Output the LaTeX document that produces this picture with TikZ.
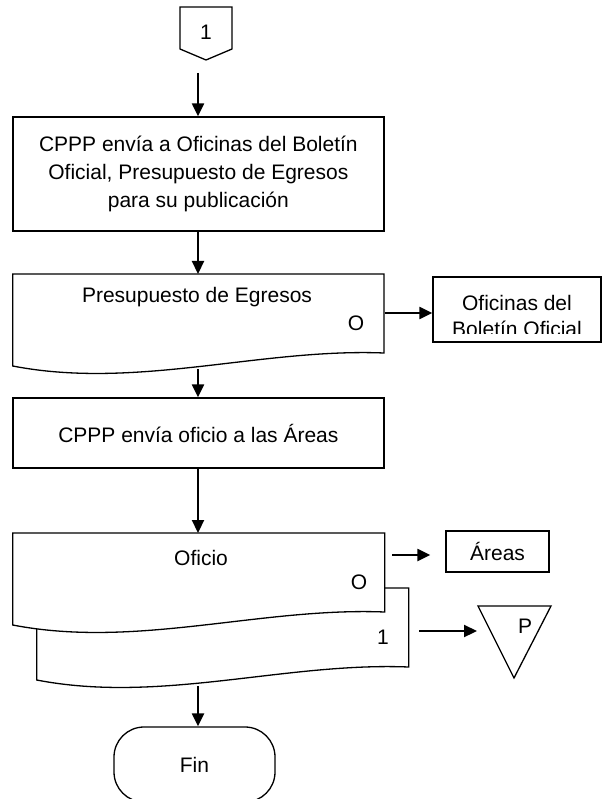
\documentclass[tikz,border=0pt]{standalone}
\usepackage{fontspec}
\setmainfont{Liberation Sans}
\usetikzlibrary{positioning,arrows.meta}

\begin{document}
\begin{tikzpicture}[x=1pt, y=-1pt, line width=1.3pt,
  font=\fontsize{21}{28}\selectfont,
  box/.style={draw, rectangle, align=center, inner sep=0pt},
  flow/.style={-{Triangle[length=13pt, width=12pt]}, line width=2.2pt}]

  \useasboundingbox (0,0) rectangle (602,799);

  % Conector de página
  \draw (180,7) -- (232,7) -- (232,49) -- (206,60) -- (180,49) -- cycle;
  \node (conn) at (206,32) {1};
  \coordinate (conn foot) at (198,73);

  % Proceso: envío al Boletín Oficial
  \node[box, minimum width=371pt, minimum height=114pt] (box1) at (198.35,174) {CPPP envía a Oficinas del Boletín\\ Oficial, Presupuesto de Egresos\\ para su publicación};

  % Documento: Presupuesto de Egresos
  \draw (12.7,274) -- (384,274) -- (384,353) .. controls (260.7,348) and (136.7,390) .. (12.7,366) -- cycle;
  \coordinate (doc1 top) at (198,274);
  \coordinate (doc1 foot) at (198,369);
  \coordinate (doc1 right) at (385,313);
  \node (doc1) at (197,297) {Presupuesto de Egresos};
  \node (doc1 o) at (356,323) {O};

  % Oficinas del Boletín Oficial (texto recortado)
  \node[box, minimum width=168pt, minimum height=65pt] (ofic) at (517,309.5) {};
  \begin{scope}
    \clip (433,277) rectangle (601,333);
    \node[align=center, font=\fontsize{21}{26}\selectfont] (ofic text) at (517,316) {Oficinas del\\ Boletín Oficial};
  \end{scope}

  % Proceso: oficio a las Áreas
  \node[box, minimum width=371pt, minimum height=70pt] (box3) at (198.35,433) {CPPP envía oficio a las Áreas};

  % Documento múltiple: Oficio
  \draw (36.7,588) -- (408.7,588) -- (408.7,667) .. controls (284.7,662) and (160.7,704) .. (36.7,680) -- cycle;
  \draw[fill=white] (12.7,533) -- (384.7,533) -- (384.7,612) .. controls (260.7,607) and (136.7,649) .. (12.7,625) -- cycle;
  \coordinate (doc2 top) at (198,533);
  \coordinate (doc2 right) at (392,555);
  \coordinate (doc2b right) at (419,631);
  \coordinate (doc2 foot) at (198,686);
  \node (doc2) at (201,558) {Oficio};
  \node (doc2 o) at (359,582) {O};
  \node (doc2 one) at (383,637) {1};

  % Áreas y archivo P
  \node[box, minimum width=103pt, minimum height=41pt] (areas) at (497.5,551.5) {Áreas};
  \draw (478,606) -- (551,606) -- (514,678) -- cycle;
  \coordinate (arch) at (477,631);
  \begin{scope}
    \clip (500,615) rectangle (545,632);
    \node (arch p) at (525,626.5) {P};
  \end{scope}

  % Terminal
  \node[draw, rectangle, rounded corners=30pt, minimum width=161pt, minimum height=75pt] (fin) at (194.5,764.5) {Fin};

  % Conexiones
  \draw[flow] (conn foot) -- (box1.north -| conn foot);
  \draw[flow] (box1.south -| doc1 top) -- (doc1 top);
  \draw[flow] (doc1 right) -- (ofic.west |- doc1 right);
  \draw[flow] (doc1 foot) -- (box3.north -| doc1 foot);
  \draw[flow] (box3.south -| doc2 top) -- (doc2 top);
  \draw[flow] (doc2 right) -- ([xshift=-15pt]areas.west |- doc2 right);
  \draw[flow] (doc2b right) -- (arch);
  \draw[flow] (doc2 foot) -- (fin.north -| doc2 foot);

\end{tikzpicture}
\end{document}
